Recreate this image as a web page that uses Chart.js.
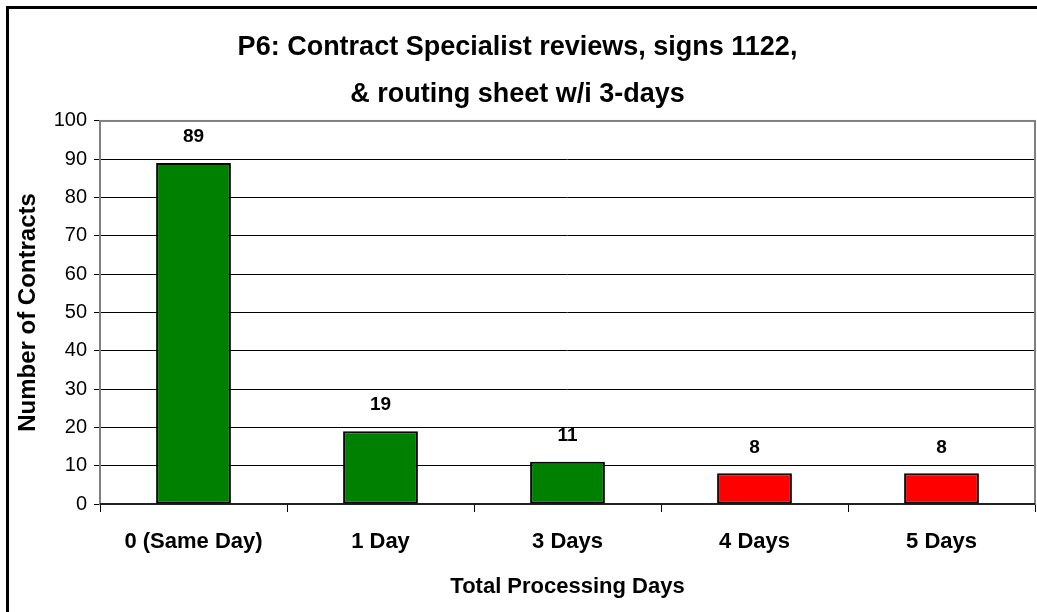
<!DOCTYPE html>
<html>
<head>
<meta charset="utf-8">
<script src="https://cdn.jsdelivr.net/npm/chart.js@4/dist/chart.umd.min.js"></script>
<style>
  body { margin: 0; background: #fff; }
  canvas { display: block; }
</style>
</head>
<body>
<canvas id="chart" width="1037" height="612"></canvas>
<script>
'use strict'

const categories = ['0 (Same Day)', '1 Day', '3 Days', '4 Days', '5 Days']
const contracts = [89, 19, 11, 8, 8]
const barColors = ['#008000', '#008000', '#008000', '#ff0000', '#ff0000']
const titleLines = ['P6: Contract Specialist reviews, signs 1122,', '& routing sheet w/i 3-days']

const FONT = '"Liberation Sans", Arial, sans-serif'

// frame, plot border and value labels
const extras = {
    id: 'extras',
    beforeDatasetsDraw(chart) {
        const { ctx, chartArea: a } = chart
        ctx.save()
        ctx.strokeStyle = '#808080'
        ctx.lineWidth = 2
        ctx.strokeRect(a.left, a.top, a.right - a.left, a.bottom - a.top)
        ctx.strokeStyle = '#000'
        ctx.lineWidth = 1.5
        ctx.beginPath()
        ctx.moveTo(a.left, a.bottom)
        ctx.lineTo(a.right, a.bottom)
        ctx.stroke()
        ctx.restore()
    },
    afterDatasetsDraw(chart) {
        const { ctx } = chart
        const meta = chart.getDatasetMeta(0)
        ctx.save()
        ctx.fillStyle = '#000'
        ctx.font = 'bold 19px ' + FONT
        ctx.textAlign = 'center'
        ctx.textBaseline = 'middle'
        meta.data.forEach((bar, i) => {
            ctx.fillText(String(contracts[i]), bar.x, bar.y - 26)
        })
        ctx.restore()
    },
    afterDraw(chart) {
        const { ctx } = chart
        ctx.save()
        ctx.fillStyle = '#000'
        ctx.fillRect(6, 6, 3, 612)
        ctx.fillRect(6, 6, 1031, 3)
        ctx.restore()
    }
}

const ctx = document.querySelector('#chart').getContext('2d')

const chart = new Chart(ctx, {
    type: 'bar',
    data: {
        labels: categories,
        datasets: [{
            data: contracts,
            backgroundColor: barColors,
            borderColor: '#000',
            borderWidth: 2,
            borderSkipped: false,
            barPercentage: 0.4,
            categoryPercentage: 1
        }]
    },
    options: {
        responsive: false,
        animation: false,
        devicePixelRatio: 1,
        layout: { padding: { left: 0, right: 2, top: 0, bottom: 0 } },
        plugins: {
            legend: { display: false },
            tooltip: { enabled: false },
            title: {
                display: true,
                text: titleLines,
                color: '#000',
                font: { family: FONT, size: 27, weight: 'bold', lineHeight: 1.74 },
                padding: { top: 24, bottom: 3 }
            }
        },
        scales: {
            x: {
                afterFit: scale => { scale.height = 108 },
                border: { display: false },
                grid: {
                    offset: true,
                    drawOnChartArea: false,
                    drawTicks: true,
                    tickLength: 8,
                    color: '#000'
                },
                ticks: {
                    color: '#000',
                    padding: 17,
                    font: { family: FONT, size: 22, weight: 'bold' }
                },
                title: {
                    display: true,
                    text: 'Total Processing Days',
                    color: '#000',
                    font: { family: FONT, size: 22, weight: 'bold' },
                    padding: { top: 0, bottom: 12 }
                }
            },
            y: {
                min: 0,
                max: 100,
                afterFit: scale => { scale.width = 100 },
                border: { display: false },
                grid: {
                    color: '#000',
                    lineWidth: 1,
                    drawTicks: true,
                    tickLength: 6
                },
                ticks: {
                    stepSize: 10,
                    color: '#000',
                    padding: 7,
                    font: { family: FONT, size: 20 }
                },
                title: {
                    display: true,
                    text: 'Number of Contracts',
                    color: '#000',
                    font: { family: FONT, size: 24, weight: 'bold' },
                    padding: { top: 14, bottom: 0 }
                }
            }
        }
    },
    plugins: [extras]
})
</script>
</body>
</html>
